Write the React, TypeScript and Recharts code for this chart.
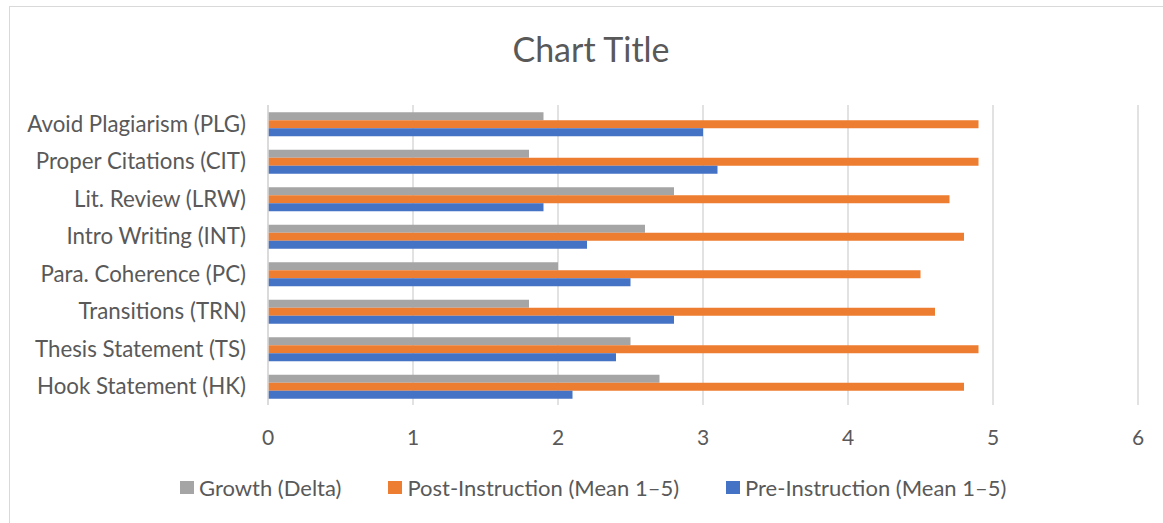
import { BarChart, Bar, XAxis, YAxis, CartesianGrid } from 'recharts'

const categories = [
  'Hook Statement (HK)',
  'Thesis Statement (TS)',
  'Transitions (TRN)',
  'Para. Coherence (PC)',
  'Intro Writing (INT)',
  'Lit. Review (LRW)',
  'Proper Citations (CIT)',
  'Avoid Plagiarism (PLG)',
]
const preInstruction = [2.1, 2.4, 2.8, 2.5, 2.2, 1.9, 3.1, 3.0]
const postInstruction = [4.8, 4.9, 4.6, 4.5, 4.8, 4.7, 4.9, 4.9]
const growth = [2.7, 2.5, 1.8, 2.0, 2.6, 2.8, 1.8, 1.9]
const xTicks = [0, 1, 2, 3, 4, 5, 6]

const series = [
  { key: 'growth', name: 'Growth (Delta)', color: '#A5A5A5' },
  { key: 'post', name: 'Post-Instruction (Mean 1–5)', color: '#ED7D31' },
  { key: 'pre', name: 'Pre-Instruction (Mean 1–5)', color: '#4472C4' },
]

const data = categories.map((name, i) => ({
  name,
  pre: preInstruction[i],
  post: postInstruction[i],
  growth: growth[i],
}))

const font = 'Lato, "Open Sans", sans-serif'
const textColor = '#595959'

export default function App() {
  return (
    <div style={{ position: 'absolute', left: 0, top: 0, width: 1163, height: 523, background: '#fff', overflow: 'hidden', fontFamily: font }}>
      <div style={{ position: 'absolute', left: 9, top: 6, width: 1170, height: 530, border: '1px solid #d9d9d9' }} />
      <div style={{ position: 'absolute', left: 0, top: 28, width: 1182, textAlign: 'center', fontSize: 34, color: textColor }}>
        Chart Title
      </div>
      <div style={{ position: 'absolute', left: 0, top: 0 }}>
        <BarChart
          width={1163}
          height={523}
          data={data}
          layout="vertical"
          margin={{ top: 105, right: 25, bottom: 90, left: 0 }}
          barCategoryGap="19%"
          barGap={0}
        >
          <CartesianGrid horizontal={false} stroke="#d9d9d9" strokeWidth={1.5} />
          <XAxis
            type="number"
            domain={[0, 6]}
            ticks={xTicks}
            height={28}
            axisLine={false}
            tickLine={false}
            tickMargin={19}
            tick={{ fontSize: 21, fill: textColor, fontFamily: font }}
          />
          <YAxis
            type="category"
            dataKey="name"
            reversed
            width={268}
            axisLine={{ stroke: '#d9d9d9', strokeWidth: 1.5 }}
            tickLine={false}
            tickMargin={16}
            tick={{ fontSize: 22.3, fill: textColor, fontFamily: font }}
          />
          {series.map((s) => (
            <Bar key={s.key} dataKey={s.key} name={s.name} fill={s.color} isAnimationActive={false} />
          ))}
        </BarChart>
      </div>
      <div style={{ position: 'absolute', left: 180, top: 474, display: 'flex', gap: 47, fontSize: 22, color: textColor, whiteSpace: 'nowrap' }}>
        {series.map((s) => (
          <div key={s.key} style={{ display: 'flex', alignItems: 'center' }}>
            <span style={{ display: 'inline-block', width: 14, height: 13, background: s.color, marginRight: 5 }} />
            <span>{s.name}</span>
          </div>
        ))}
      </div>
    </div>
  )
}
